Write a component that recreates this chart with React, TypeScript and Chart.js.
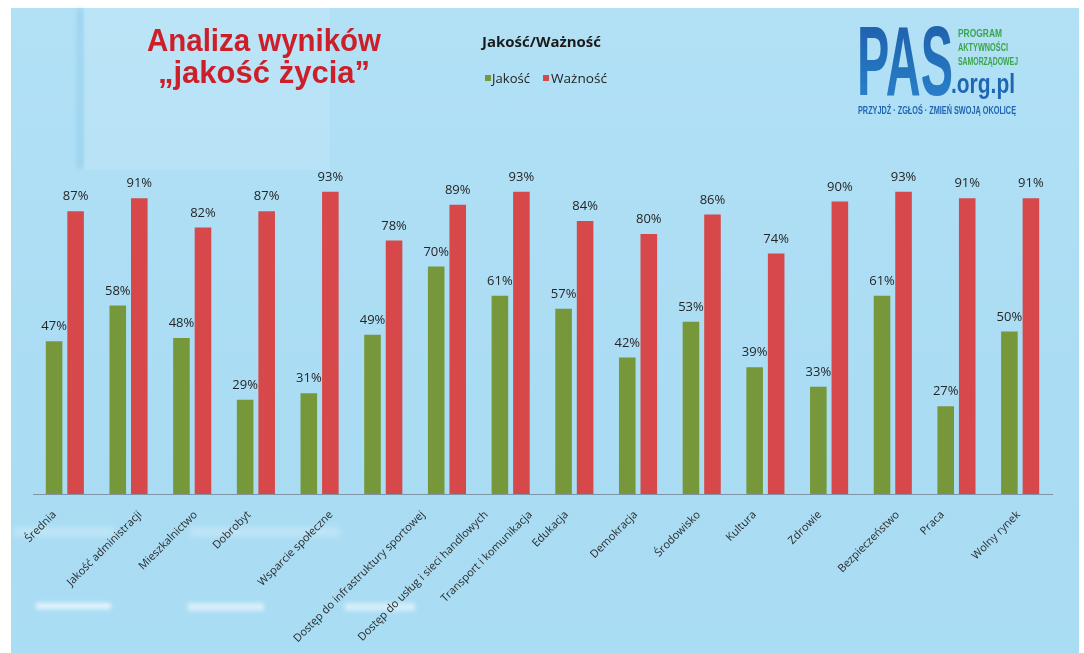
import React, { useEffect, useRef } from "react";
import { Chart, registerables } from "chart.js";

Chart.register(...registerables);

const categories = [
  "Średnia",
  "Jakość administracji",
  "Mieszkalnictwo",
  "Dobrobyt",
  "Wsparcie społeczne",
  "Dostęp do infrastruktury sportowej",
  "Dostęp do usług i sieci handlowych",
  "Transport i komunikacja",
  "Edukacja",
  "Demokracja",
  "Środowisko",
  "Kultura",
  "Zdrowie",
  "Bezpieczeństwo",
  "Praca",
  "Wolny rynek",
];
const jakosc = [47, 58, 48, 29, 31, 49, 70, 61, 57, 42, 53, 39, 33, 61, 27, 50];
const waznosc = [87, 91, 82, 87, 93, 78, 89, 93, 84, 80, 86, 74, 90, 93, 91, 91];
const seriesNames = ["Jakość", "Ważność"];
const seriesColors = ["#76983a", "#d6484a"];
const yMin = 0;
const yMax = 100;

const valueLabels = {
  id: "valueLabels",
  afterDatasetsDraw(chart: any) {
    const ctx = chart.ctx;
    ctx.save();
    ctx.font = '13px "Open Sans"';
    ctx.fillStyle = "#262626";
    ctx.textAlign = "center";
    ctx.textBaseline = "alphabetic";
    chart.data.datasets.forEach((ds: any, i: number) => {
      const meta = chart.getDatasetMeta(i);
      meta.data.forEach((el: any, j: number) => {
        ctx.fillText(`${ds.data[j]}%`, el.x, el.y - 11);
      });
    });
    ctx.restore();
  },
};

// Category labels rotated 45°, placed the way the spreadsheet does it
// (rotated text centred a little left of the category centre, top-aligned below the axis).
const rotatedCategoryLabels = {
  id: "rotatedCategoryLabels",
  afterDraw(chart: any) {
    const ctx = chart.ctx;
    const xScale = chart.scales.x;
    ctx.save();
    ctx.font = '11px "Open Sans"';
    ctx.fillStyle = "#2a2a2a";
    ctx.textAlign = "right";
    ctx.textBaseline = "middle";
    const labels = chart.data.labels as string[];
    labels.forEach((label, i) => {
      const c = xScale.getPixelForTick(i);
      const w = ctx.measureText(label).width;
      const endX = c - 24 + 0.354 * w;
      const endY = xScale.top + 19;
      ctx.save();
      ctx.translate(endX, endY);
      ctx.rotate(-Math.PI / 4);
      ctx.fillText(label, 0, 0);
      ctx.restore();
    });
    ctx.restore();
  },
};

export default function App() {
  const canvasRef = useRef<HTMLCanvasElement | null>(null);

  useEffect(() => {
    if (!canvasRef.current) return;
    const chart = new Chart(canvasRef.current, {
      type: "bar",
      data: {
        labels: categories,
        datasets: [
          {
            label: seriesNames[0],
            data: jakosc,
            backgroundColor: seriesColors[0],
            categoryPercentage: 0.676,
            barPercentage: 0.77,
          },
          {
            label: seriesNames[1],
            data: waznosc,
            backgroundColor: seriesColors[1],
            categoryPercentage: 0.676,
            barPercentage: 0.77,
          },
        ],
      },
      options: {
        animation: false,
        responsive: false,
        devicePixelRatio: 1,
        layout: { padding: { left: 33, right: 32, top: 169, bottom: 0 } },
        plugins: {
          legend: { display: false },
          title: { display: false },
          tooltip: { enabled: false },
        },
        scales: {
          x: {
            grid: { display: false },
            border: { display: true, color: "#7d95a6", width: 1 },
            ticks: { display: false },
            afterFit: (scale: any) => {
              scale.height = 159;
            },
          },
          y: {
            display: false,
            min: yMin,
            max: yMax,
          },
        },
      },
      plugins: [valueLabels, rotatedCategoryLabels],
    });
    return () => chart.destroy();
  }, []);

  return (
    <div
      style={{
        position: "fixed",
        left: 0,
        top: 0,
        width: 1084,
        height: 653,
        background: "#ffffff",
        overflow: "hidden",
      }}
    >
      <div
        style={{
          position: "absolute",
          left: 11,
          top: 8,
          width: 1068,
          height: 645,
          background: "linear-gradient(180deg, #b2e1f6 0%, #aadcf3 60%, #a9ddf4 100%)",
        }}
      />
      {/* faint background shapes */}
      <div style={{ position: "absolute", left: 77, top: 8, width: 6, height: 160, background: "rgba(120,190,225,0.35)", filter: "blur(2px)" }} />
      <div style={{ position: "absolute", left: 84, top: 8, width: 246, height: 162, background: "rgba(255,255,255,0.12)" }} />
      <div style={{ position: "absolute", left: 36, top: 603, width: 75, height: 6, background: "rgba(255,255,255,0.7)", filter: "blur(2px)" }} />
      <div style={{ position: "absolute", left: 188, top: 603, width: 76, height: 8, background: "rgba(255,255,255,0.55)", filter: "blur(2px)" }} />
      <div style={{ position: "absolute", left: 345, top: 603, width: 70, height: 8, background: "rgba(255,255,255,0.5)", filter: "blur(2px)" }} />
      <div style={{ position: "absolute", left: 14, top: 528, width: 100, height: 8, background: "rgba(255,255,255,0.3)", filter: "blur(3px)" }} />
      <div style={{ position: "absolute", left: 190, top: 528, width: 150, height: 8, background: "rgba(255,255,255,0.3)", filter: "blur(3px)" }} />
      <canvas
        ref={canvasRef}
        width={1084}
        height={653}
        style={{ position: "absolute", left: 0, top: 0, width: 1084, height: 653 }}
      />
      <svg
        width={1084}
        height={653}
        style={{ position: "absolute", left: 0, top: 0, pointerEvents: "none" }}
      >
        {/* Title */}
        <text
          x={147}
          y={51}
          textLength={234}
          lengthAdjust="spacingAndGlyphs"
          fontFamily="'Liberation Sans', Arial, sans-serif"
          fontWeight="bold"
          fontSize={31}
          fill="#cc1f29"
        >
          Analiza wyników
        </text>
        <text
          x={158}
          y={83}
          textLength={212}
          lengthAdjust="spacingAndGlyphs"
          fontFamily="'Liberation Sans', Arial, sans-serif"
          fontWeight="bold"
          fontSize={31}
          fill="#cc1f29"
        >
          „jakość życia”
        </text>
        {/* Legend */}
        <text
          x={482}
          y={47}
          textLength={119}
          lengthAdjust="spacingAndGlyphs"
          fontFamily="'Open Sans', sans-serif"
          fontWeight="bold"
          fontSize={14}
          fill="#1a1a1a"
        >
          Jakość/Ważność
        </text>
        <rect x={485} y={75} width={6} height={6} fill={seriesColors[0]} />
        <text
          x={492}
          y={83}
          textLength={38}
          lengthAdjust="spacingAndGlyphs"
          fontFamily="'Open Sans', sans-serif"
          fontSize={12}
          fill="#222"
        >
          {seriesNames[0]}
        </text>
        <rect x={543} y={75} width={6} height={6} fill={seriesColors[1]} />
        <text
          x={551}
          y={83}
          textLength={56}
          lengthAdjust="spacingAndGlyphs"
          fontFamily="'Open Sans', sans-serif"
          fontSize={12}
          fill="#222"
        >
          {seriesNames[1]}
        </text>
        {/* Logo */}
        <defs>
          <linearGradient id="pasGrad" x1="0" y1="0" x2="0" y2="1">
            <stop offset="0%" stopColor="#1d5aa6" />
            <stop offset="100%" stopColor="#2b86cf" />
          </linearGradient>
        </defs>
        <text
          x={857}
          y={95}
          textLength={96}
          lengthAdjust="spacingAndGlyphs"
          fontFamily="'Liberation Sans', Arial, sans-serif"
          fontWeight="bold"
          fontSize={98}
          fill="url(#pasGrad)"
        >
          PAS
        </text>
        <text x={958} y={37} textLength={44} lengthAdjust="spacingAndGlyphs" fontFamily="'Liberation Sans', Arial, sans-serif" fontWeight="bold" fontSize={10} fill="#3aa54a">
          PROGRAM
        </text>
        <text x={958} y={51} textLength={50} lengthAdjust="spacingAndGlyphs" fontFamily="'Liberation Sans', Arial, sans-serif" fontWeight="bold" fontSize={10} fill="#3aa54a">
          AKTYWNOŚCI
        </text>
        <text x={958} y={65} textLength={60} lengthAdjust="spacingAndGlyphs" fontFamily="'Liberation Sans', Arial, sans-serif" fontWeight="bold" fontSize={10} fill="#3aa54a">
          SAMORZĄDOWEJ
        </text>
        <text x={951} y={93} textLength={64} lengthAdjust="spacingAndGlyphs" fontFamily="'Liberation Sans', Arial, sans-serif" fontWeight="bold" fontSize={28} fill="#1f66b2">
          .org.pl
        </text>
        <text x={858} y={114} textLength={158} lengthAdjust="spacingAndGlyphs" fontFamily="'Liberation Sans', Arial, sans-serif" fontWeight="bold" fontSize={11} fill="#1f66b2">
          PRZYJDŹ · ZGŁOŚ · ZMIEŃ SWOJĄ OKOLICĘ
        </text>
      </svg>
    </div>
  );
}
